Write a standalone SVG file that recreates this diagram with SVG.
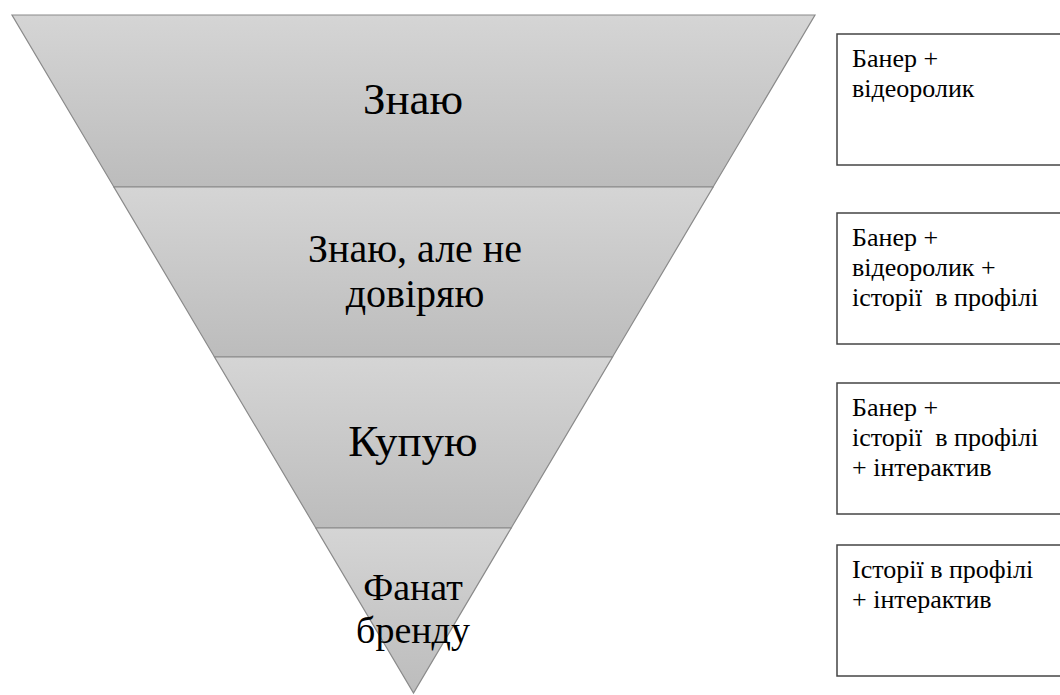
<svg xmlns="http://www.w3.org/2000/svg" width="1060" height="695" viewBox="0 0 1060 695">
<style>
.band{stroke:#8a8a8a;stroke-width:1.2;}
.lbl{font-family:'Liberation Serif',serif;font-size:45px;fill:#000;text-anchor:middle;}
.md{font-size:40px;}
.sm{font-size:38px;}
.box{fill:#fff;stroke:#444;stroke-width:1.5;}
.btxt{font-family:'Liberation Serif',serif;font-size:26px;fill:#000;}
</style>
<defs>
<linearGradient id="g" x1="0" y1="0" x2="0" y2="1">
<stop offset="0" stop-color="#d5d5d5"/>
<stop offset="1" stop-color="#bcbcbc"/>
</linearGradient>
</defs>
<rect width="1060" height="695" fill="#fff"/>
<g id="band1">
<polygon class="band" fill="url(#g)" points="12,15 815,15 713.1,187 113.9,187"/>
<text class="lbl" x="413" y="114">Знаю</text>
</g>
<g id="band2">
<polygon class="band" fill="url(#g)" points="113.9,187 713.1,187 612.5,357 214.5,357"/>
<text class="lbl md" x="415" y="262">Знаю, але не</text>
<text class="lbl md" x="415" y="307">довіряю</text>
</g>
<g id="band3">
<polygon class="band" fill="url(#g)" points="214.5,357 612.5,357 511.2,528 315.8,528"/>
<text class="lbl" x="413" y="456">Купую</text>
</g>
<g id="band4">
<polygon class="band" fill="url(#g)" points="315.8,528 511.2,528 413.5,693"/>
<text class="lbl sm" x="413" y="600">Фанат</text>
<text class="lbl sm" x="413" y="643">бренду</text>
</g>
<g id="box1">
<rect class="box" x="837" y="34" width="240" height="131"/>
<text class="btxt" x="852" y="67">Банер +</text>
<text class="btxt" x="852" y="97">відеоролик</text>
</g>
<g id="box2">
<rect class="box" x="837" y="213" width="240" height="131"/>
<text class="btxt" x="852" y="246">Банер +</text>
<text class="btxt" x="852" y="276">відеоролик +</text>
<text class="btxt" x="852" y="306" xml:space="preserve">історії  в профілі</text>
</g>
<g id="box3">
<rect class="box" x="837" y="383" width="240" height="131"/>
<text class="btxt" x="852" y="416">Банер +</text>
<text class="btxt" x="852" y="446" xml:space="preserve">історії  в профілі</text>
<text class="btxt" x="852" y="476">+ інтерактив</text>
</g>
<g id="box4">
<rect class="box" x="837" y="545" width="240" height="131"/>
<text class="btxt" x="852" y="578">Історії в профілі</text>
<text class="btxt" x="852" y="608">+ інтерактив</text>
</g>
<g id="connectors"></g>
</svg>
